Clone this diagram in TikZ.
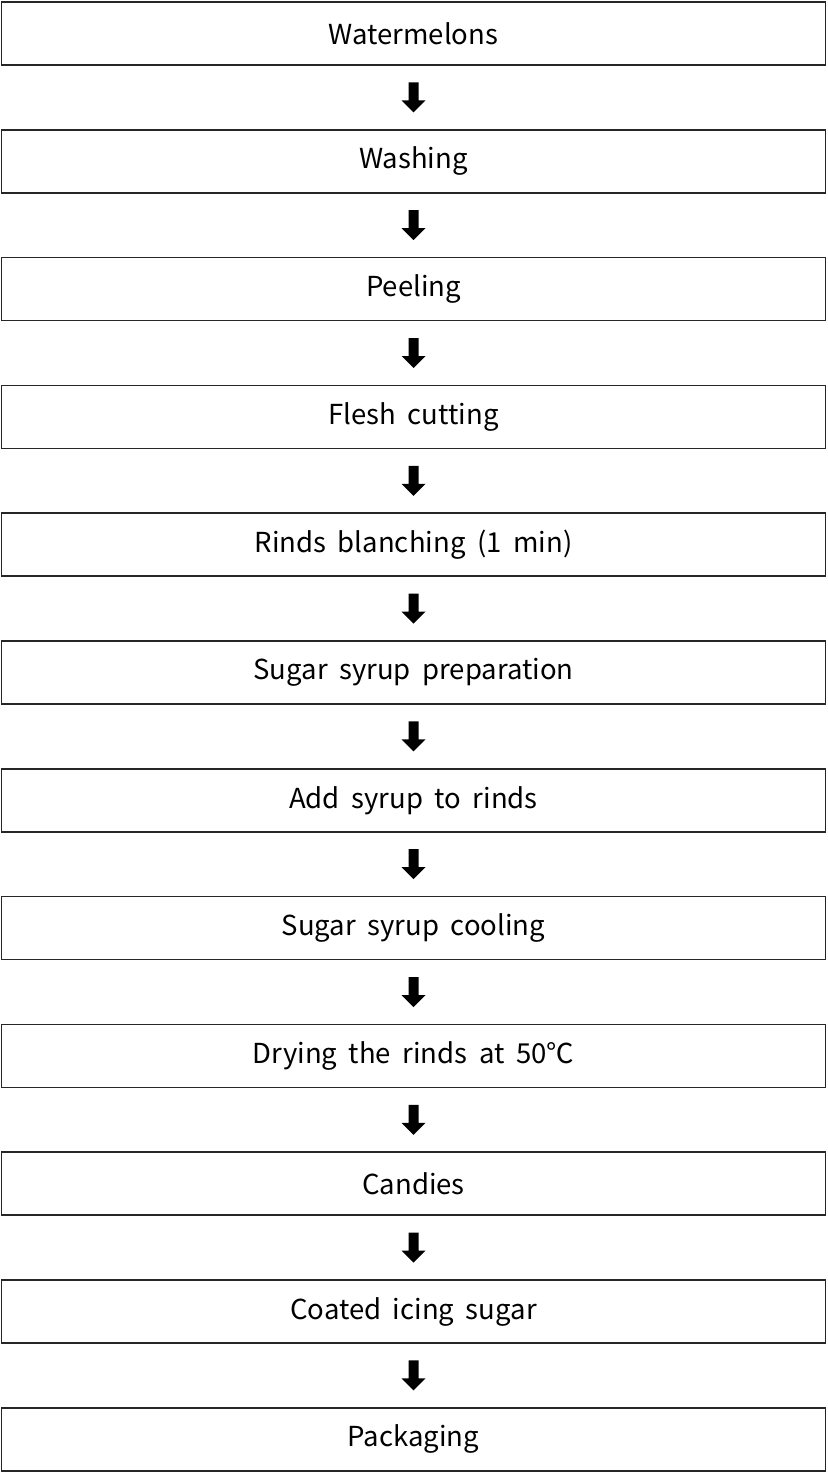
\documentclass[tikz,border=0pt]{standalone}
\usepackage{fontspec}
\setmainfont{Noto Sans CJK KR}
\newcommand{\widespace}{\spaceskip=0.42em plus 0.1em\relax}
\begin{document}
\begin{tikzpicture}[x=1pt,y=-1pt,
  stepbox/.style={draw=black!85,line width=1.6pt,minimum width=824pt,minimum height=63pt,inner sep=0pt,font={\fontsize{27.5}{32}\selectfont\widespace}},
  flowarrow/.style={fill=black,draw=none}]
\useasboundingbox (0,0) rectangle (827,1472);
\foreach \t [count=\i from 0] in {Watermelons,Washing,Peeling,Flesh cutting,Rinds blanching (1 min),Sugar syrup preparation,Add syrup to rinds,Sugar syrup cooling,Drying the rinds at 50℃,Candies,Coated icing sugar,Packaging}{
  \node[stepbox] (b\i) at (413.5,{33.5+127.8*\i}) {\t};
}
\foreach \i in {0,...,10}{
  \pgfmathtruncatemacro\j{\i+1}
  \path (b\i.south) -- (b\j.north) coordinate[pos=0.5] (m\i);
  \fill[flowarrow] ([shift={(-5,-15)}]m\i) -- ([shift={(5,-15)}]m\i) -- ([shift={(5,3)}]m\i) -- ([shift={(12,3)}]m\i) -- ([shift={(0,15)}]m\i) -- ([shift={(-12,3)}]m\i) -- ([shift={(-5,3)}]m\i) -- cycle;
}
\end{tikzpicture}
\end{document}
